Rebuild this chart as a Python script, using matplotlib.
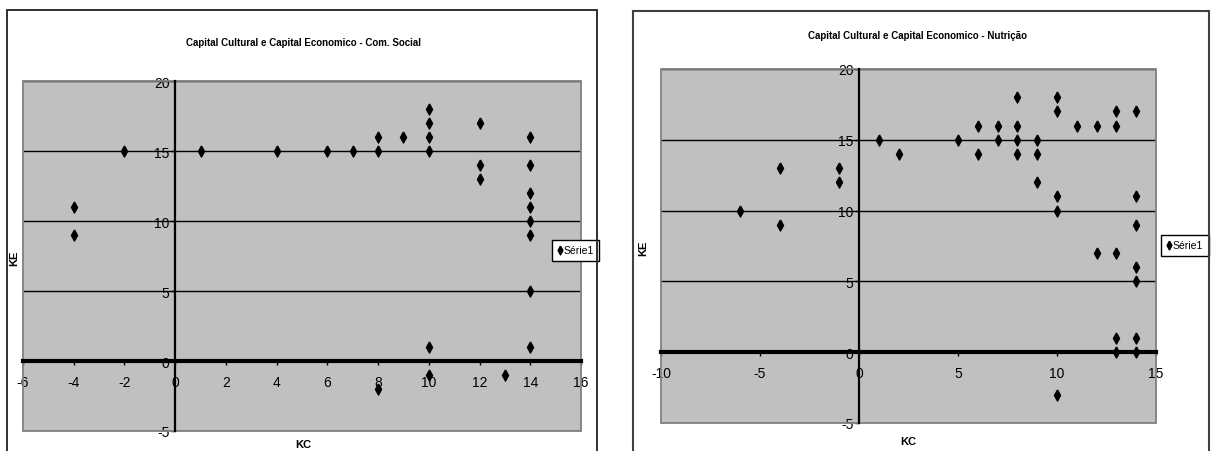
import matplotlib
matplotlib.use('Agg')
import matplotlib.pyplot as plt
from matplotlib.patches import Rectangle

plt.rcParams['font.family'] = ['Liberation Sans Narrow', 'Liberation Sans', 'DejaVu Sans']
plt.rcParams['axes.unicode_minus'] = False

# Com. Social
kc_social = [-4, -4, -2, 1, 4, 6, 7, 8, 8, 8, 9, 10, 10, 10, 10, 10, 10,
             12, 12, 12, 13, 14, 14, 14, 14, 14, 14, 14, 14]
ke_social = [11, 9, 15, 15, 15, 15, 15, 16, 15, -2, 16, 18, 17, 16, 15, 1, -1,
             17, 14, 13, -1, 16, 14, 12, 11, 10, 9, 5, 1]

# Nutricao
kc_nutri = [-6, -4, -4, -1, -1, 1, 2, 5, 6, 6, 7, 7, 8, 8, 8, 8, 9, 9, 9,
            10, 10, 10, 10, 10, 11, 12, 12, 13, 13, 13, 13, 13,
            14, 14, 14, 14, 14, 14, 14]
ke_nutri = [10, 13, 9, 13, 12, 15, 14, 15, 16, 14, 16, 15, 18, 16, 15, 14, 15, 14, 12,
            18, 17, 11, 10, -3, 16, 16, 7, 17, 16, 7, 1, 0,
            17, 11, 9, 6, 5, 1, 0]

titles = ['Capital Cultural e Capital Economico - Com. Social',
          'Capital Cultural e Capital Economico - Nutrição']
xticks_social = list(range(-6, 17, 2))
xticks_nutri = [-10, -5, 0, 5, 10, 15]
yticks = [-5, 0, 5, 10, 15, 20]

W, H = 1211, 452
fig = plt.figure(figsize=(W / 100, H / 100), dpi=100)


def px_axes(x0, y0, x1, y1):
    return fig.add_axes([x0 / W, 1 - y1 / H, (x1 - x0) / W, (y1 - y0) / H])


def px(x, y):
    return x / W, 1 - y / H


diamond = [(0, 1), (0.55, 0), (0, -1), (-0.55, 0), (0, 1)]


def draw_chart(ax, kc, ke, xticks, legend_pos):
    ax.set_facecolor('#c0c0c0')
    ax.plot(kc, ke, linestyle='none', marker=diamond, ms=8, color='black',
            label='Série1', zorder=5)
    ax.set_xlim(xticks[0], xticks[-1])
    ax.set_ylim(yticks[0], yticks[-1])
    ax.set_xticks(xticks)
    ax.set_yticks(yticks)
    ax.yaxis.grid(True, color='black', lw=1)
    ax.set_axisbelow(True)
    ax.spines['left'].set_position(('data', 0))
    ax.spines['bottom'].set_position(('data', 0))
    ax.spines['left'].set_linewidth(1.6)
    ax.spines['bottom'].set_linewidth(3)
    ax.spines['left'].set_zorder(4)
    ax.spines['bottom'].set_zorder(4)
    ax.spines['top'].set_visible(False)
    ax.spines['right'].set_visible(False)
    ax.add_patch(Rectangle((0, 0), 1, 1, transform=ax.transAxes, fill=False,
                           ec='#808080', lw=1.3, clip_on=False, zorder=3))
    ax.tick_params(axis='y', direction='out', length=3, width=1, pad=1,
                   labelsize=10)
    ax.tick_params(axis='x', direction='out', length=3, width=1, pad=7,
                   labelsize=10)
    leg = ax.legend(loc='center', bbox_to_anchor=px(*legend_pos),
                    bbox_transform=fig.transFigure, fancybox=False,
                    edgecolor='black', framealpha=1, handlelength=0.5,
                    handletextpad=0.1, borderpad=0.5, borderaxespad=0,
                    fontsize=7.5, markerscale=0.8)
    leg.get_frame().set_linewidth(1)


ax1 = px_axes(23, 82, 581, 432)
draw_chart(ax1, kc_social, ke_social, xticks_social, (575.5, 251.5))

ax2 = px_axes(661, 70, 1156, 424)
draw_chart(ax2, kc_nutri, ke_nutri, xticks_nutri, (1185, 246.5))

# chart borders
fig.add_artist(Rectangle(px(7, 470), (597 - 7) / W, (470 - 11) / H,
                         transform=fig.transFigure, fill=False, ec='#202020', lw=1.3))
fig.add_artist(Rectangle(px(633, 470), (1209 - 633) / W, (470 - 12) / H,
                         transform=fig.transFigure, fill=False, ec='#404040', lw=1.5))

fig.text(*px(303, 43), titles[0], ha='center', va='center', fontsize=7, fontweight='bold')
fig.text(*px(918, 36), titles[1], ha='center', va='center', fontsize=7, fontweight='bold')
fig.text(*px(303, 445), 'KC', ha='center', va='center', fontsize=8, fontweight='bold')
fig.text(*px(908, 442), 'KC', ha='center', va='center', fontsize=8, fontweight='bold')
fig.text(*px(14, 258), 'KE', ha='center', va='center', fontsize=8, fontweight='bold', rotation=90)
fig.text(*px(643, 248), 'KE', ha='center', va='center', fontsize=8, fontweight='bold', rotation=90)

fig.savefig('out.png', dpi=100)
